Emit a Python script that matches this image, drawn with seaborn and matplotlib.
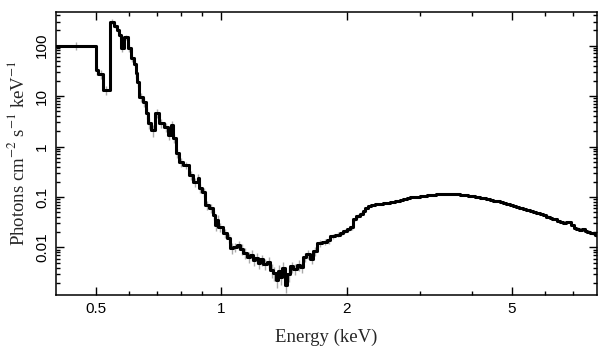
import numpy as np
import matplotlib
matplotlib.use("Agg")
import matplotlib.pyplot as plt
from matplotlib.ticker import FixedLocator, FuncFormatter, LogLocator, NullFormatter
import seaborn as sns

# spectrum: left bin edges (keV), flux per bin, relative error
# soft part 0.4 - 1.1 keV
soft_edges = [0.400, 0.500, 0.506, 0.518, 0.540, 0.551, 0.560, 0.566, 0.573, 0.582,
              0.595, 0.605, 0.615, 0.622, 0.627, 0.632, 0.647, 0.659, 0.664, 0.676,
              0.691, 0.706, 0.726, 0.742, 0.755, 0.763, 0.776, 0.789, 0.806, 0.834,
              0.852, 0.876, 0.881, 0.900, 0.915, 0.931, 0.952, 0.967, 0.975, 0.983,
              1.006, 1.034, 1.051, 1.069, 1.092]
soft_flux = [100, 33, 27, 13, 300, 250, 200, 160, 88, 145,
             88, 56, 44, 28, 18.7, 9.5, 7.5, 4.6, 2.9, 2.1,
             4.6, 2.9, 2.4, 1.68, 2.65, 1.47, 0.74, 0.49, 0.43, 0.27,
             0.198, 0.24, 0.151, 0.126, 0.0695, 0.0607, 0.044, 0.028, 0.035, 0.0255,
             0.0194, 0.0155, 0.0098, 0.0103, 0.0113]
soft_err = [0.2, 0.2, 0.2, 0.2, 0.1, 0.1, 0.1, 0.12, 0.15, 0.12,
            0.15, 0.15, 0.15, 0.2, 0.2, 0.2, 0.2, 0.25, 0.25, 0.25,
            0.2, 0.2, 0.2, 0.2, 0.2, 0.2, 0.2, 0.2, 0.15, 0.2,
            0.2, 0.2, 0.2, 0.2, 0.2, 0.2, 0.2, 0.25, 0.25, 0.2,
            0.2, 0.2, 0.25, 0.2, 0.2]

# the dip 1.1 - 1.9 keV
dip_edges = [1.111, 1.129, 1.150, 1.174, 1.190, 1.206, 1.225, 1.240, 1.261, 1.285,
             1.311, 1.332, 1.350, 1.370, 1.385, 1.400, 1.420, 1.439, 1.464, 1.490,
             1.520, 1.547, 1.573, 1.600, 1.635, 1.665, 1.699, 1.750, 1.796, 1.826,
             1.880]
dip_flux = [0.0095, 0.0078, 0.0065, 0.0072, 0.0057, 0.0062, 0.0050, 0.0058, 0.0048, 0.0052,
            0.0036, 0.0031, 0.0023, 0.0034, 0.0026, 0.0040, 0.0018, 0.0030, 0.0042, 0.0038,
            0.0045, 0.0041, 0.0065, 0.0075, 0.0060, 0.0085, 0.0120, 0.0130, 0.0140, 0.0165,
            0.0180]
dip_err = [0.25, 0.25, 0.25, 0.25, 0.25, 0.25, 0.25, 0.25, 0.25, 0.25,
           0.3, 0.3, 0.3, 0.3, 0.3, 0.3, 0.3, 0.3, 0.25, 0.25,
           0.25, 0.25, 0.2, 0.2, 0.2, 0.2, 0.15, 0.15, 0.15, 0.12,
           0.12]

# hard part 1.9 - 8 keV
hard_edges = [1.929, 1.962, 2.004, 2.040, 2.073, 2.110, 2.155, 2.190, 2.214, 2.251,
              2.285, 2.315, 2.347, 2.380, 2.412, 2.445, 2.478, 2.510, 2.546, 2.583,
              2.616, 2.650, 2.689, 2.728, 2.764, 2.800, 2.841, 2.882, 2.940, 3.000,
              3.057, 3.115, 3.172, 3.230, 3.290, 3.351, 3.415, 3.480, 3.542, 3.605,
              3.652, 3.700, 3.754, 3.809, 3.860, 3.910, 3.967, 4.024, 4.082, 4.140,
              4.196, 4.252, 4.336, 4.420, 4.505, 4.590, 4.675, 4.760, 4.847, 4.934,
              5.022, 5.110, 5.206, 5.303, 5.406, 5.510, 5.618, 5.727, 5.833, 5.940,
              6.048, 6.157, 6.243, 6.330, 6.418, 6.507, 6.634, 6.762, 6.850, 6.940,
              7.040, 7.138, 7.258, 7.379, 7.483, 7.587, 7.693, 7.800, 7.900]
hard_flux = [0.0195, 0.0215, 0.0235, 0.0250, 0.036, 0.042, 0.046, 0.052, 0.060, 0.067,
             0.069, 0.070, 0.0715, 0.0725, 0.0735, 0.0745, 0.0755, 0.0765, 0.078, 0.0795,
             0.0825, 0.085, 0.089, 0.091, 0.093, 0.095, 0.098, 0.100, 0.102, 0.104,
             0.106, 0.108, 0.110, 0.111, 0.113, 0.1135, 0.1145, 0.115, 0.1155, 0.115,
             0.114, 0.1135, 0.112, 0.110, 0.108, 0.107, 0.105, 0.103, 0.101, 0.099,
             0.097, 0.095, 0.091, 0.088, 0.084, 0.082, 0.078, 0.076, 0.0725, 0.070,
             0.0665, 0.0645, 0.0615, 0.059, 0.0555, 0.0535, 0.0505, 0.0485, 0.0455, 0.0435,
             0.041, 0.039, 0.037, 0.036, 0.034, 0.032, 0.0305, 0.0315, 0.0325, 0.028,
             0.0245, 0.0235, 0.0225, 0.023, 0.021, 0.0205, 0.0195, 0.019, 0.0175]
hard_err = [0.1, 0.1, 0.1, 0.1, 0.08, 0.08, 0.08, 0.06, 0.06, 0.05,
            0.05, 0.05, 0.05, 0.04, 0.04, 0.04, 0.04, 0.04, 0.04, 0.04,
            0.04, 0.04, 0.04, 0.04, 0.03, 0.03, 0.03, 0.03, 0.03, 0.03,
            0.03, 0.03, 0.03, 0.03, 0.03, 0.03, 0.03, 0.03, 0.03, 0.03,
            0.03, 0.03, 0.03, 0.03, 0.03, 0.03, 0.03, 0.03, 0.03, 0.03,
            0.03, 0.03, 0.03, 0.03, 0.03, 0.03, 0.03, 0.03, 0.03, 0.03,
            0.04, 0.04, 0.04, 0.04, 0.04, 0.04, 0.04, 0.04, 0.04, 0.04,
            0.05, 0.05, 0.05, 0.05, 0.05, 0.05, 0.05, 0.05, 0.05, 0.05,
            0.06, 0.06, 0.06, 0.06, 0.06, 0.06, 0.06, 0.06, 0.06]
last_edge = 8.0

edges = np.array(soft_edges + dip_edges + hard_edges + [last_edge])
flux = np.array(soft_flux + dip_flux + hard_flux)
rel_err = np.array(soft_err + dip_err + hard_err)

sns.set_style("ticks")
plt.rcParams['font.family'] = ['Liberation Sans', 'DejaVu Sans']
plt.rcParams['mathtext.fontset'] = 'stix'

fig = plt.figure(figsize=(6.09, 3.57), dpi=100)
ax = fig.add_axes([0.092, 0.174, 0.888, 0.792])

# gray error bars at bin centres, under the step line
centres = np.sqrt(edges[:-1] * edges[1:])
ax.vlines(centres, flux * (1 - rel_err), flux * (1 + rel_err),
          color='#aaaaaa', lw=1.0, zorder=1)

sns.lineplot(x=edges, y=np.append(flux, flux[-1]), drawstyle='steps-post',
             estimator=None, sort=False, color='black', lw=2.2, ax=ax, zorder=2)

ax.set_xscale('log')
ax.set_yscale('log')
ax.set_xlim(0.4, 8.0)
ax.set_ylim(1.15e-3, 460)

ax.xaxis.set_major_locator(FixedLocator([0.5, 1, 2, 5]))
ax.xaxis.set_minor_locator(FixedLocator([0.6, 0.7, 0.8, 0.9, 3, 4, 6, 7]))
ax.xaxis.set_major_formatter(FuncFormatter(lambda v, p: f"{v:g}"))
ax.xaxis.set_minor_formatter(NullFormatter())
ax.yaxis.set_major_locator(LogLocator(base=10))
ax.yaxis.set_minor_locator(LogLocator(base=10, subs=np.arange(2, 10)))
ax.yaxis.set_major_formatter(FuncFormatter(lambda v, p: f"{v:g}"))
ax.yaxis.set_minor_formatter(NullFormatter())

ax.tick_params(which='both', direction='in', top=True, right=True,
               width=1.0, colors='black', labelsize=11)
ax.tick_params(which='major', length=6, pad=5)
ax.tick_params(which='minor', length=3)
for lab in ax.get_yticklabels():
    lab.set_rotation(90)
    lab.set_va('center')

for s in ax.spines.values():
    s.set_linewidth(1.1)
    s.set_color('black')

ax.set_xlabel('Energy (keV)', family=['Liberation Serif'], fontsize=13.5, labelpad=9)
ax.set_ylabel(r'Photons cm$^{-2}$ s$^{-1}$ keV$^{-1}$', family=['Liberation Serif'],
              fontsize=13.5, labelpad=5)

fig.savefig('out.png', dpi=100)
